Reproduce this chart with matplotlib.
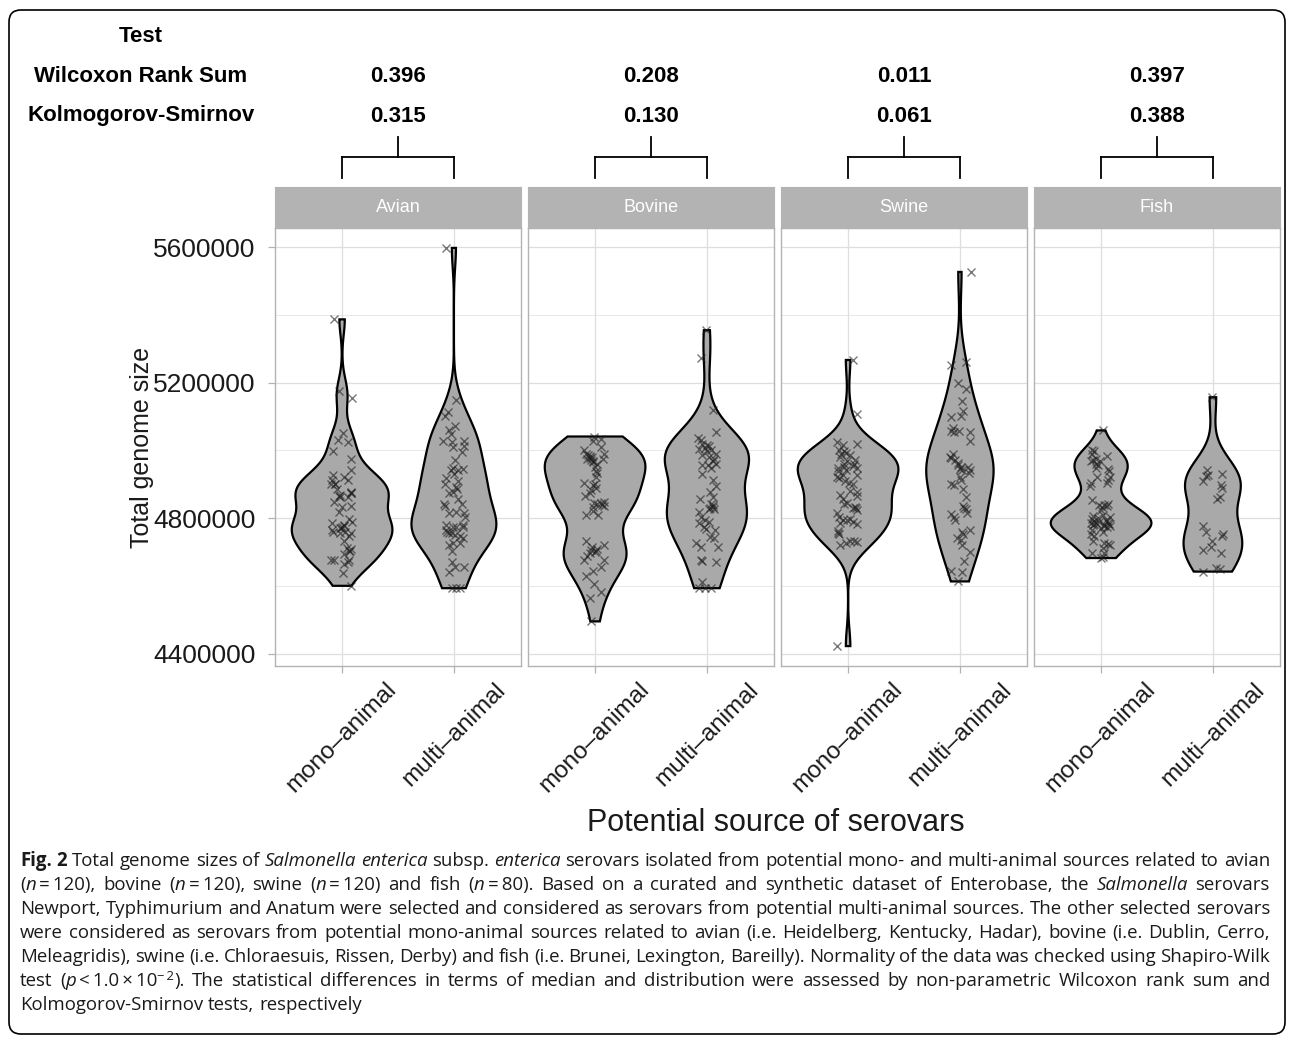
import numpy as np
import matplotlib
matplotlib.use('Agg')
import matplotlib.pyplot as plt
from matplotlib.patches import FancyBboxPatch
from matplotlib.lines import Line2D
from matplotlib.transforms import blended_transform_factory, IdentityTransform

W, H = 1293, 1037

sources = ['Avian', 'Bovine', 'Swine', 'Fish']
groups = ['mono\u2013animal', 'multi\u2013animal']
wilcoxon_p = ['0.396', '0.208', '0.011', '0.397']
ks_p = ['0.315', '0.130', '0.061', '0.388']
y_ticks = [4400000, 4800000, 5200000, 5600000]

avian_mono = [5387000, 5175000, 5155000, 5052000, 5031000, 5024000, 4998000, 4976000, 4943000,
              4927000, 4914000, 4902000, 4902000, 4920000, 4912000, 4887000, 4863000, 4868000,
              4873000, 4878000, 4863000, 4848000, 4834000, 4819000, 4836000, 4796000, 4789000,
              4785000, 4780000, 4775000, 4770000, 4765000, 4760000, 4755000, 4760000, 4755000,
              4747000, 4731000, 4711000, 4708000, 4704000, 4694000, 4677000, 4677000, 4677000,
              4669000, 4665000, 4639000, 4600000, 4770000, 4900000, 4875000, 4778000, 4703000,
              4865000]
avian_mono_dx = [-0.07, -0.03, 0.09, 0.01, -0.04, 0.05, -0.08, 0.08, 0.08, -0.08, -0.09, -0.06,
                 -0.10, 0.02, 0.05, -0.05, -0.02, -0.02, 0.08, 0.08, 0.05, -0.07, 0.0, -0.03,
                 0.08, 0.06, 0.09, -0.09, 0.02, 0.0, -0.01, -0.09, -0.08, -0.02, 0.03, 0.08,
                 0.06, 0.02, 0.04, 0.08, 0.06, 0.02, -0.10, -0.07, 0.06, 0.05, 0.02, 0.01,
                 0.08, -0.02, -0.06, 0.08, 0.02, 0.07, -0.03]
avian_multi = [5598000, 5149000, 5113000, 5103000, 5059000, 5071000, 5047000, 5028000, 5025000,
               5010000, 5028000, 5012000, 4995000, 4971000, 4949000, 4941000, 4941000, 4946000,
               4931000, 4917000, 4900000, 4910000, 4892000, 4887000, 4873000, 4878000, 4855000,
               4843000, 4841000, 4835000, 4814000, 4819000, 4814000, 4804000, 4780000, 4780000,
               4773000, 4775000, 4775000, 4765000, 4757000, 4755000, 4760000, 4750000, 4747000,
               4740000, 4726000, 4721000, 4726000, 4704000, 4669000, 4657000, 4642000, 4655000,
               4593000, 4593000, 4593000]
avian_multi_dx = [-0.07, 0.02, -0.05, -0.08, -0.04, 0.01, -0.03, -0.10, -0.02, -0.01, 0.09, 0.09,
                  0.07, 0.01, -0.01, -0.03, 0.04, 0.08, 0.0, -0.07, -0.08, 0.04, 0.02, 0.03,
                  -0.04, -0.01, 0.04, 0.07, -0.09, -0.08, -0.04, 0.02, 0.09, 0.10, -0.07, 0.08,
                  0.08, -0.01, 0.02, -0.07, -0.04, -0.02, -0.06, 0.01, 0.05, 0.08, -0.01, -0.04,
                  0.05, -0.02, -0.02, 0.01, -0.04, 0.09, -0.02, 0.02, 0.05]
bovine_mono = [5041000, 5035000, 5028000, 5010000, 5002000, 4990000, 4982000, 4971000, 4976000,
               4966000, 4988000, 4976000, 4980000, 4951000, 4933000, 4922000, 4904000, 4897000,
               4890000, 4882000, 4865000, 4873000, 4845000, 4841000, 4848000, 4835000, 4833000,
               4822000, 4809000, 4809000, 4731000, 4706000, 4708000, 4721000, 4704000, 4696000,
               4688000, 4677000, 4677000, 4657000, 4645000, 4630000, 4606000, 4564000, 4581000,
               4495000, 4985000, 4978000, 4968000, 4960000, 4940000, 4900000, 4845000, 4840000,
               4715000, 4700000]
bovine_mono_dx = [-0.01, 0.05, -0.02, 0.05, -0.10, -0.08, -0.05, -0.04, -0.07, -0.02, 0.08, 0.07,
                  -0.03, 0.0, 0.02, 0.01, -0.10, -0.02, 0.01, -0.04, -0.09, -0.05, -0.01, 0.02,
                  0.08, 0.08, -0.02, -0.02, 0.03, -0.08, -0.08, -0.04, 0.02, 0.08, 0.01, -0.05,
                  -0.07, -0.10, 0.08, 0.05, -0.02, -0.08, -0.01, -0.05, 0.05, -0.04, -0.06, -0.05,
                  -0.02, 0.02, 0.01, 0.0, 0.05, 0.06, -0.03, 0.0]
bovine_multi = [5355000, 5273000, 5118000, 5054000, 5037000, 5030000, 5020000, 5015000, 5012000,
                5005000, 5000000, 4985000, 4980000, 4988000, 4970000, 4961000, 4956000, 4956000,
                4949000, 4929000, 4914000, 4894000, 4878000, 4863000, 4841000, 4833000, 4826000,
                4828000, 4855000, 4819000, 4804000, 4794000, 4785000, 4775000, 4789000, 4767000,
                4765000, 4745000, 4740000, 4726000, 4716000, 4716000, 4677000, 4672000, 4669000,
                4610000, 4593000, 4593000, 4593000, 4838000, 4830000, 4998000, 5008000, 4975000]
bovine_multi_dx = [-0.01, -0.05, 0.05, 0.08, -0.08, -0.05, -0.04, 0.0, 0.02, -0.07, 0.04, -0.04,
                   0.02, 0.08, 0.05, 0.08, -0.04, 0.01, 0.04, -0.04, 0.05, 0.08, 0.03, 0.05,
                   0.04, 0.05, 0.02, 0.06, -0.06, -0.07, -0.05, -0.02, -0.07, -0.03, 0.02, -0.01,
                   0.07, 0.03, 0.06, -0.10, -0.05, 0.10, -0.05, -0.04, 0.08, -0.04, -0.07, -0.02,
                   0.04, 0.05, 0.03, 0.0, -0.02, 0.06]
swine_mono = [5267000, 5108000, 5024000, 5015000, 5018000, 5000000, 4992000, 4980000, 4985000,
              4973000, 4949000, 4951000, 4943000, 4953000, 4949000, 4922000, 4927000, 4927000,
              4910000, 4904000, 4900000, 4917000, 4878000, 4865000, 4868000, 4855000, 4845000,
              4841000, 4829000, 4824000, 4832000, 4816000, 4804000, 4794000, 4786000, 4794000,
              4789000, 4782000, 4796000, 4763000, 4753000, 4721000, 4726000, 4731000, 4731000,
              4728000, 4422000, 4990000, 4960000, 4970000, 4940000, 4880000, 4830000, 4757000,
              4960000, 4998000]
swine_mono_dx = [0.04, 0.08, -0.10, -0.05, 0.08, -0.08, -0.02, -0.07, 0.02, 0.06, -0.09, -0.04,
                 -0.02, 0.04, 0.08, -0.10, -0.05, 0.08, -0.03, 0.01, 0.04, -0.08, 0.08, 0.08,
                 -0.07, -0.05, -0.01, -0.04, 0.04, 0.08, 0.06, -0.10, -0.08, -0.05, -0.07, -0.01,
                 0.04, 0.08, 0.02, -0.09, -0.08, -0.07, -0.02, 0.02, 0.05, 0.08, -0.10, -0.06,
                 -0.04, -0.01, -0.09, 0.02, 0.07, -0.09, 0.05, -0.04]
swine_multi = [5527000, 5253000, 5260000, 5198000, 5181000, 5145000, 5116000, 5103000, 5100000,
               5067000, 5057000, 5054000, 5057000, 5054000, 5028000, 4981000, 4988000, 4973000,
               4963000, 4951000, 4941000, 4951000, 4943000, 4933000, 4922000, 4912000, 4900000,
               4897000, 4887000, 4863000, 4835000, 4826000, 4814000, 4812000, 4802000, 4794000,
               4760000, 4753000, 4765000, 4740000, 4735000, 4721000, 4701000, 4672000, 4645000,
               4642000, 4613000, 4958000, 4945000, 4830000, 4978000]
swine_multi_dx = [0.10, -0.08, 0.05, -0.02, 0.05, 0.02, 0.03, 0.01, -0.08, -0.06, -0.08, -0.05,
                  -0.01, 0.09, 0.09, -0.09, -0.06, -0.04, -0.02, 0.01, 0.02, 0.07, 0.09, 0.08,
                  0.0, 0.01, -0.08, -0.05, 0.03, 0.05, 0.03, 0.05, 0.06, -0.08, -0.05, -0.04,
                  0.02, 0.03, 0.09, -0.03, 0.01, 0.02, 0.09, 0.04, -0.08, 0.02, -0.02, -0.02,
                  0.0, 0.04, -0.08]
fish_mono = [5059000, 5002000, 4998000, 4971000, 4969000, 4961000, 4956000, 4949000, 4969000,
             4982000, 4946000, 4922000, 4914000, 4904000, 4920000, 4904000, 4894000, 4853000,
             4838000, 4835000, 4841000, 4833000, 4824000, 4809000, 4802000, 4796000, 4785000,
             4780000, 4785000, 4780000, 4775000, 4785000, 4777000, 4765000, 4770000, 4753000,
             4747000, 4731000, 4726000, 4724000, 4711000, 4721000, 4698000, 4686000, 4682000,
             4696000, 4990000, 4975000, 4783000, 4790000, 4800000, 4840000, 4938000, 4760000,
             4790000, 4795000, 4782000, 4788000, 4778000, 4805000]
fish_mono_dx = [0.02, -0.08, -0.06, -0.07, -0.09, -0.05, -0.03, -0.05, -0.01, 0.05, 0.06, 0.08,
                0.06, 0.05, -0.04, -0.09, -0.10, -0.08, -0.02, 0.05, 0.06, 0.01, 0.0, 0.02,
                0.08, -0.08, -0.09, -0.07, -0.05, 0.03, 0.05, 0.06, 0.08, -0.08, 0.0, -0.09,
                -0.06, -0.07, 0.03, 0.06, 0.02, 0.08, 0.03, 0.02, 0.0, -0.08, -0.08, -0.05,
                -0.06, 0.05, -0.03, 0.03, 0.07, 0.02, -0.06, 0.04, 0.07, -0.02, 0.03, -0.07]
fish_multi = [5157000, 4941000, 4927000, 4910000, 4924000, 4930000, 4897000, 4890000, 4863000,
              4855000, 4776000, 4760000, 4753000, 4747000, 4731000, 4716000, 4706000, 4698000,
              4642000, 4652000, 4649000]
fish_multi_dx = [-0.01, -0.05, -0.04, -0.09, -0.06, 0.08, 0.07, 0.08, 0.06, 0.04, -0.09, -0.06,
                 0.09, 0.08, -0.01, -0.02, -0.09, 0.07, -0.09, 0.03, 0.06]

values = {'Avian': [avian_mono, avian_multi], 'Bovine': [bovine_mono, bovine_multi],
          'Swine': [swine_mono, swine_multi], 'Fish': [fish_mono, fish_multi]}
jitter = {'Avian': [avian_mono_dx, avian_multi_dx], 'Bovine': [bovine_mono_dx, bovine_multi_dx],
          'Swine': [swine_mono_dx, swine_multi_dx], 'Fish': [fish_mono_dx, fish_multi_dx]}


def nrd0(x):
    sd = x.std(ddof=1)
    q75, q25 = np.percentile(x, [75, 25])
    lo = min(sd, (q75 - q25) / 1.34)
    if lo <= 0:
        lo = sd
    return 0.9 * lo * len(x) ** -0.2


def density(v):
    x = np.asarray(v, float)
    bw = nrd0(x)
    grid = np.linspace(x.min(), x.max(), 512)
    z = (grid[:, None] - x[None, :]) / bw
    d = np.exp(-0.5 * z ** 2).sum(1) / (len(x) * bw * np.sqrt(2 * np.pi))
    return grid, d


def px_rect(left, top, right, bottom):
    return [left / W, 1 - bottom / H, (right - left) / W, (bottom - top) / H]


plt.rcParams['font.family'] = ['Liberation Sans', 'DejaVu Sans']
fig = plt.figure(figsize=(W / 100, H / 100), dpi=100)

allv = np.concatenate([np.asarray(v, float) for s in sources for v in values[s]])
span = allv.max() - allv.min()
ylim = (allv.min() - 0.05 * span, allv.max() + 0.05 * span)

panel_left = [275, 528, 781, 1034]
panel_w = 246
top, bottom, strip_top = 228, 666, 187
border = '#b3b3b3'
grid_c = '#dedede'

for i, src in enumerate(sources):
    L = panel_left[i]
    ax = fig.add_axes(px_rect(L, top, L + panel_w, bottom))
    dens = [density(v) for v in values[src]]
    dmax = max(d.max() for _, d in dens)
    for j, (g, d) in enumerate(dens):
        pos = j + 1
        hw = 0.45 * d / dmax
        xs = np.r_[pos - hw, (pos + hw)[::-1]]
        ys = np.r_[g, g[::-1]]
        ax.fill(xs, ys, facecolor='#a9a9a9', edgecolor='black', lw=1.6, zorder=3)
        ax.plot(pos + np.asarray(jitter[src][j]), values[src][j], 'x', color='#1f1f1f',
                alpha=0.6, markersize=5.5, mew=1.0, zorder=4)
    ax.set_xlim(0.4, 2.6)
    ax.set_ylim(*ylim)
    ax.set_xticks([1, 2])
    ax.set_xticklabels(groups, rotation=45, ha='center', va='top', fontsize=17.5,
                       color='#1a1a1a')
    ax.set_yticks(y_ticks)
    ax.set_yticks([4600000, 5000000, 5400000], minor=True)
    ax.grid(which='major', color=grid_c, lw=0.9, zorder=0)
    ax.grid(which='minor', axis='y', color=grid_c, lw=0.5, zorder=0)
    ax.set_axisbelow(True)
    ax.tick_params(axis='both', which='major', color=border, length=5, width=0.9, pad=4)
    ax.tick_params(axis='y', which='major', pad=9)
    ax.tick_params(axis='y', which='minor', length=0)
    if i == 0:
        ax.set_yticklabels([str(t) for t in y_ticks], fontsize=19, color='#1a1a1a')
    else:
        ax.tick_params(axis='y', which='major', length=0, labelleft=False)
    for sp in ax.spines.values():
        sp.set_color(border)
        sp.set_linewidth(1.0)

    # facet strip
    sax = fig.add_axes(px_rect(L, strip_top, L + panel_w, top))
    sax.set_facecolor(border)
    sax.set_xticks([])
    sax.set_yticks([])
    for sp in sax.spines.values():
        sp.set_color(border)
    sax.text(0.5, 0.5, src, ha='center', va='center', color='white', fontsize=13,
             transform=sax.transAxes)

    # test table values and brackets
    tr = blended_transform_factory(ax.transData, fig.transFigure)
    fig.text(1.5, 1 - 76 / H, wilcoxon_p[i], transform=tr, ha='center', va='center',
             fontsize=16, fontweight='bold')
    fig.text(1.5, 1 - 116 / H, ks_p[i], transform=tr, ha='center', va='center',
             fontsize=16, fontweight='bold')
    y1, y2, y3 = 1 - 137 / H, 1 - 157 / H, 1 - 178 / H
    for xs, ys in [([1.5, 1.5], [y1, y2]), ([1, 2], [y2, y2]), ([1, 1], [y2, y3]), ([2, 2], [y2, y3])]:
        fig.add_artist(Line2D(xs, ys, transform=tr, color='black', lw=1.3))

fig.text(141 / W, 1 - 36 / H, 'Test', ha='center', va='center', fontsize=16, fontweight='bold')
fig.text(141 / W, 1 - 76 / H, 'Wilcoxon Rank Sum', ha='center', va='center', fontsize=16,
         fontweight='bold')
fig.text(141 / W, 1 - 116 / H, 'Kolmogorov-Smirnov', ha='center', va='center', fontsize=16,
         fontweight='bold')

fig.text(142 / W, 1 - 447 / H, 'Total genome size', rotation=90, ha='center', va='center',
         fontsize=18, color='#1a1a1a')
fig.text(776 / W, 1 - 823 / H, 'Potential source of serovars', ha='center', va='center',
         fontsize=22, color='#1a1a1a')

# caption, justified line by line
caption = [
    [('Fig. 2', 'b'), (' Total genome sizes of ', 'r'), ('Salmonella enterica', 'i'), (' subsp. ', 'r'),
     ('enterica', 'i'), (' serovars isolated from potential mono- and multi-animal sources related to avian', 'r')],
    [('(', 'r'), ('n', 'i'), ('\u2009=\u2009120), bovine (', 'r'), ('n', 'i'), ('\u2009=\u2009120), swine (', 'r'),
     ('n', 'i'), ('\u2009=\u2009120) and fish (', 'r'), ('n', 'i'),
     ('\u2009=\u200980). Based on a curated and synthetic dataset of Enterobase, the ', 'r'),
     ('Salmonella', 'i'), (' serovars', 'r')],
    [('Newport, Typhimurium and Anatum were selected and considered as serovars from potential '
      'multi-animal sources. The other selected serovars', 'r')],
    [('were considered as serovars from potential mono-animal sources related to avian (i.e. '
      'Heidelberg, Kentucky, Hadar), bovine (i.e. Dublin, Cerro,', 'r')],
    [('Meleagridis), swine (i.e. Chloraesuis, Rissen, Derby) and fish (i.e. Brunei, Lexington, '
      'Bareilly). Normality of the data was checked using Shapiro-Wilk', 'r')],
    [('test (', 'r'), ('p', 'i'), ('\u2009<\u20091.0\u2009\u00d7\u200910', 'r'), ('\u2212\u20092', 's'),
     ('). The statistical differences in terms of median and distribution were assessed by '
      'non-parametric Wilcoxon rank sum and', 'r')],
    [('Kolmogorov-Smirnov tests, respectively', 'r')],
]
cap_font = ['Open Sans', 'DejaVu Sans']
cap_size = 13.4
styles = {'r': dict(fontweight='normal', fontstyle='normal', fontsize=cap_size),
          'b': dict(fontweight='bold', fontstyle='normal', fontsize=cap_size),
          'i': dict(fontweight='normal', fontstyle='italic', fontsize=cap_size),
          's': dict(fontweight='normal', fontstyle='normal', fontsize=cap_size * 0.7)}

renderer = fig.canvas.get_renderer()


def text_width(s, st):
    t = fig.text(0, 0, s, family=cap_font, transform=IdentityTransform(), **styles[st])
    w = t.get_window_extent(renderer).width
    t.remove()
    return w


space_w = text_width('a a', 'r') - text_width('aa', 'r')
x_left, x_right = 20, 1270
for k, line in enumerate(caption):
    tokens = []
    pending = False
    for seg, st in line:
        parts = seg.split(' ')
        for n, part in enumerate(parts):
            if n > 0:
                pending = True
            if part == '':
                continue
            tokens.append([part, st, pending and len(tokens) > 0])
            pending = False
    widths = [text_width(t[0], t[1]) for t in tokens]
    n_sp = sum(1 for t in tokens if t[2])
    if k < len(caption) - 1 and n_sp:
        gap = (x_right - x_left - sum(widths)) / n_sp
    else:
        gap = space_w
    base = H - (866 + 24 * k)
    x = x_left
    for (word, st, sp), w in zip(tokens, widths):
        if sp:
            x += gap
        yoff = 6 if st == 's' else 0
        fig.text(x, base + yoff, word, family=cap_font, transform=IdentityTransform(),
                 ha='left', va='baseline', color='#1a1a1a', **styles[st])
        x += w

frame = FancyBboxPatch((9, H - 1034), 1276, 1024, boxstyle='round,pad=0,rounding_size=12',
                       transform=IdentityTransform(), facecolor='none', edgecolor='black', lw=1.2)
fig.add_artist(frame)

fig.savefig('out.png', dpi=100)
